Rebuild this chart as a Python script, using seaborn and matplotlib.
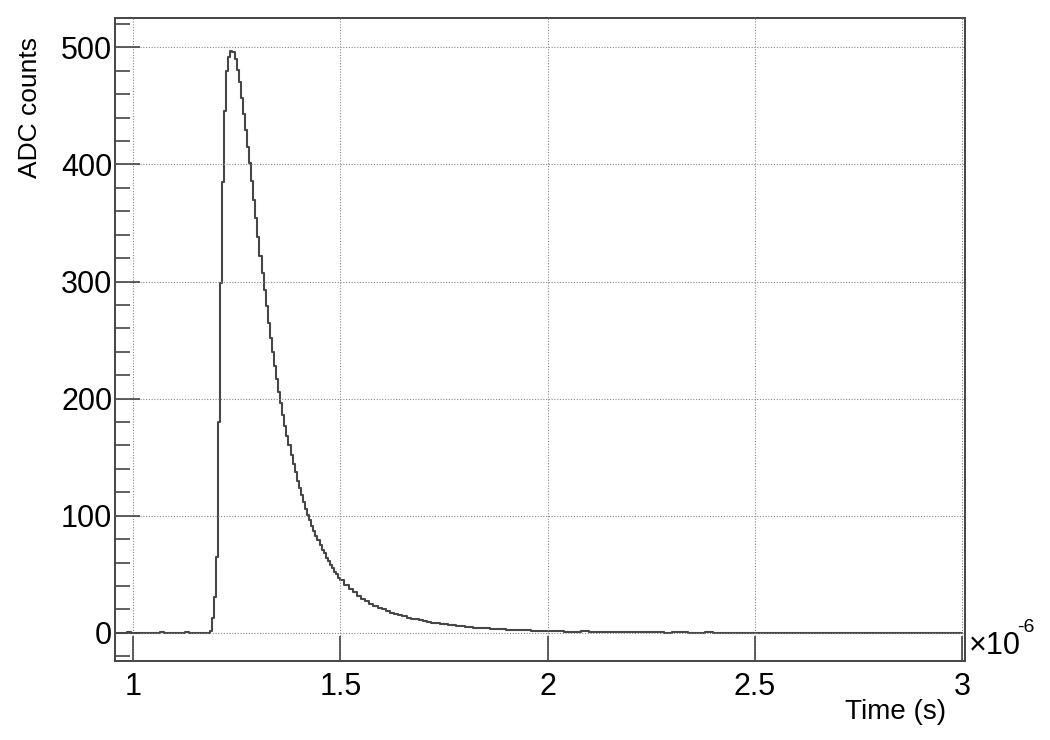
import numpy as np
import pandas as pd
import seaborn as sns
import matplotlib.pyplot as plt
from matplotlib.ticker import MultipleLocator

# waveform samples, time in microseconds (bin start), ADC counts
# baseline before the pulse, 10 ns sampling from 0.955 us
baseline_adc = [0.2, -0.3, 0.1, 0.4, -0.2, 0.0, 0.3, -0.4, 0.1, -0.1, 0.2, 0.5,
                -0.3, 0.0, 0.3, -0.2, 0.1, 0.4, -0.1, 0.2, -0.3, 0.1, 0.3]
# pulse, 5 ns sampling from 1.185 us
pulse_adc = [2, 13, 31, 65, 180, 299, 385, 446, 480, 492, 497, 496, 490,
             481, 470, 457, 443, 429, 415, 401, 386, 370, 354, 338, 322, 307,
             293, 279, 265, 252, 240, 228, 217, 206, 196, 186, 177, 168, 160,
             152, 144, 137, 130, 124, 118, 112, 106, 101, 96, 91, 87, 83, 79,
             75, 71, 68, 64, 61, 58, 55, 52, 50, 47]
# tail, 10 ns sampling from 1.50 us
tail_adc = [45, 41, 37.5, 34.5, 31.5, 29, 27, 25, 23, 21.5, 20, 18.5, 17, 16,
            15, 14, 13, 12.2, 11.5, 10.8, 10, 9.4, 8.8, 8.2, 7.7, 7.2, 6.8,
            6.4, 6.0, 5.6]
# late tail, 20 ns sampling from 1.80 us
late_adc = [5.2, 4.6, 4.0, 3.5, 3.1, 2.7, 2.4, 2.1, 1.9, 1.6, 1.4, 1.2, 1.0,
            0.9, 1.2, 0.7, 0.6, 1.0, 0.6, 0.5, 0.9, 0.4, 0.5, 0.8, 0.3, 0.4,
            0.7, 0.2, 0.3, 0.6, 0.2, 0.1, 0.2, 0.0, 0.1, 0.0, 0.1, -0.1, 0.0,
            0.1, 0.0, -0.1, 0.0, 0.1, 0.0, -0.1, 0.0, 0.1, 0.0, -0.1, 0.0,
            0.1, 0.0, -0.1, 0.0, 0.0, 0.1, 0.0, -0.1, 0.0, 0.0]

segments = [(0.955, 0.01, baseline_adc), (1.185, 0.005, pulse_adc),
            (1.50, 0.01, tail_adc), (1.80, 0.02, late_adc)]
t_list, v_list = [], []
for t0, dt, vals in segments:
    t_list.append(np.round(t0 + dt * np.arange(len(vals)), 4))
    v_list.append(np.array(vals, dtype=float))
df = pd.DataFrame({"time": np.concatenate(t_list), "adc": np.concatenate(v_list)})

xticks = [1, 1.5, 2, 2.5, 3]
xticklabels = ["1", "1.5", "2", "2.5", "3"]
yticks = [0, 100, 200, 300, 400, 500]

sns.set_theme(style="white")
plt.rcParams["font.family"] = ["Liberation Sans", "DejaVu Sans"]
plt.rcParams["text.color"] = "black"

fig = plt.figure(figsize=(10.5, 7.4), dpi=100)
ax = fig.add_axes([115 / 1050, 79 / 740, 850 / 1050, 643 / 740])

sns.lineplot(data=df, x="time", y="adc", ax=ax, estimator=None, sort=True,
             drawstyle="steps-post", color="#474747", linewidth=1.5)

ax.set_xlim(0.9566, 3.007)
ax.set_ylim(-24, 525)
ax.set_xticks(xticks)
ax.set_xticklabels(xticklabels)
ax.set_yticks(yticks)
ax.yaxis.set_minor_locator(MultipleLocator(20))
ax.grid(True, which="major", color="#8a8a8a", linestyle=(0, (1, 1.5)), linewidth=0.8)
ax.set_axisbelow(False)

ax.tick_params(axis="both", which="major", direction="in", length=18, width=1.2,
               color="#444444", labelsize=22, labelcolor="black",
               bottom=True, left=True, top=False, right=False)
ax.tick_params(axis="x", which="major", pad=8)
ax.tick_params(axis="y", which="major", pad=2)
ax.tick_params(axis="y", which="minor", direction="in", length=11, width=1.2,
               color="#444444", left=True)
for s in ax.spines.values():
    s.set_color("#444444")
    s.set_linewidth(1.4)

ax.set_xlabel("")
ax.set_ylabel("")
fig.text(30 / 1050, 1 - 37 / 740, "ADC counts", rotation=90, ha="center",
         va="top", fontsize=19, color="black")
fig.text(946 / 1050, 1 - 712 / 740, "Time (s)", ha="right", va="center",
         fontsize=20, color="black")
fig.text(969 / 1050, 1 - 646 / 740, "\u00d710", ha="left", va="center",
         fontsize=22, color="black")
fig.text(1017 / 1050, 1 - 628 / 740, "-6", ha="left", va="center",
         fontsize=14, color="black")

fig.savefig("out.png", dpi=100)
